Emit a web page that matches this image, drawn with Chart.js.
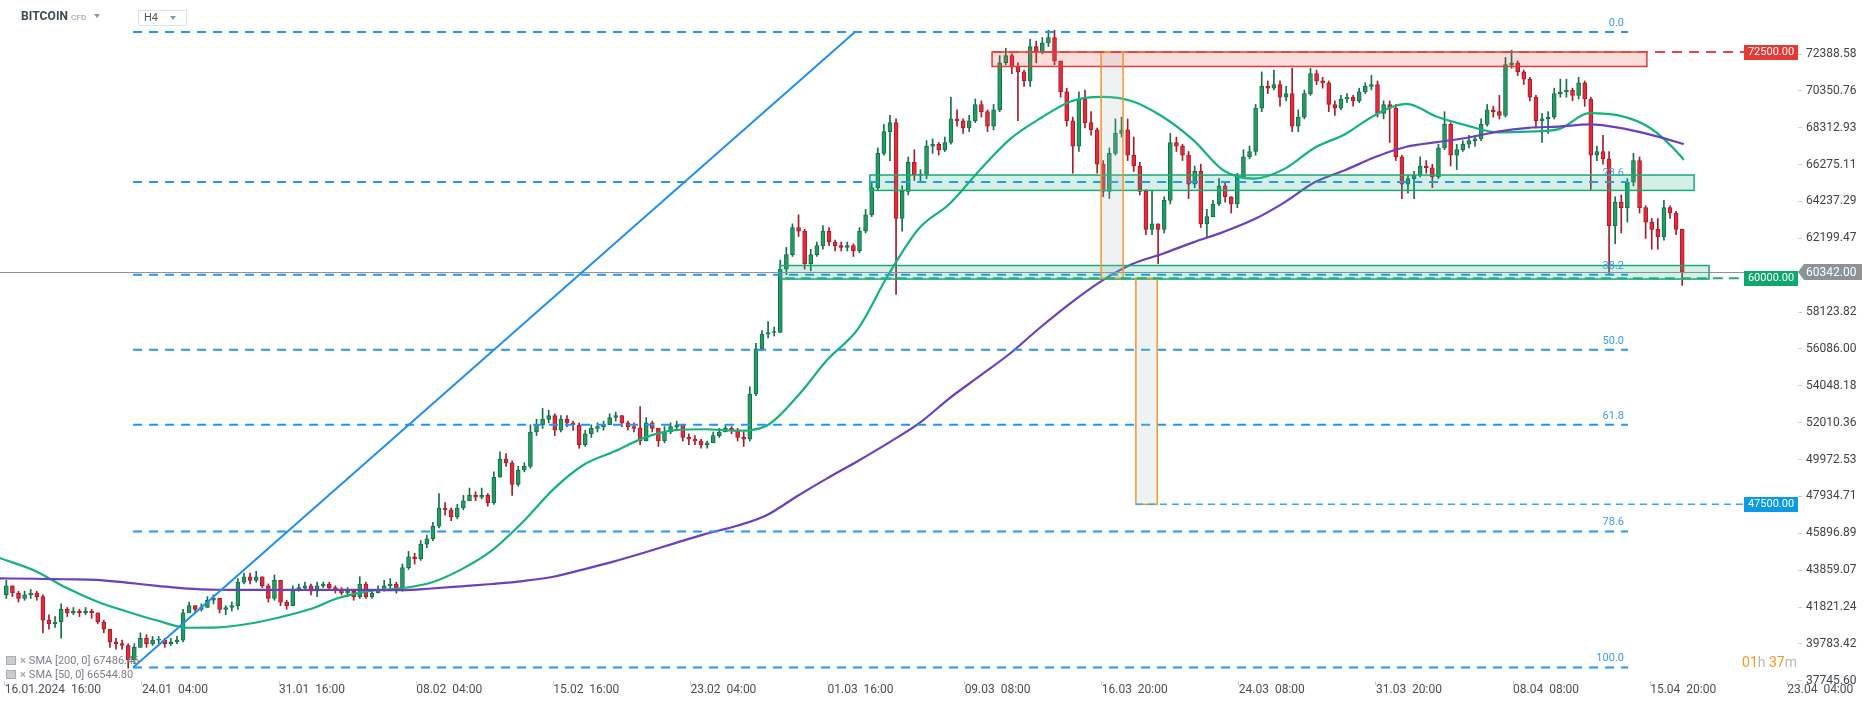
<!DOCTYPE html>
<html lang="en">
<head>
<meta charset="UTF-8">
<title>BITCOIN H4</title>
<script src="https://cdn.jsdelivr.net/npm/chart.js@4.4.1/dist/chart.umd.min.js"></script>
<style>
    html, body { margin: 0; padding: 0; background: #fff; }
    body { width: 1866px; height: 707px; overflow: hidden; position: relative; font-family: Roboto, "Open Sans", sans-serif; }
    #chart { position: absolute; left: 0; top: 0; }
    .sym { position: absolute; left: 21px; top: 9px; font-size: 12px; font-weight: 700; color: #3d4a57; letter-spacing: 0.1px; }
    .sym small { font-size: 8px; font-weight: 400; color: #8c98a4; margin-left: 3px; }
    .caret { position: absolute; width: 0; height: 0; border-left: 3px solid transparent; border-right: 3px solid transparent; border-top: 4px solid #8c98a4; }
    .tf { position: absolute; left: 138px; top: 10px; width: 42px; height: 14px; border: 1px solid #dfe3e7; font-size: 11px; color: #555; line-height: 14px; padding-left: 5px; box-sizing: content-box; }
    .legend { position: absolute; left: 6px; font-size: 11px; color: #7b8087; line-height: 12px; white-space: nowrap; }
    .legend i { display: inline-block; width: 8px; height: 7px; border: 1px solid #a9adb1; background: #c9ccd0; margin-right: 4px; vertical-align: -1px; }
    .legend b { color: #a2a6ab; font-weight: 700; margin-right: 3px; }
    .timer { position: absolute; right: 69px; top: 654px; font-size: 14px; color: #f5961f; }
    .timer span { color: #b9b9b9; }
</style>
</head>
<body>
<canvas id="chart" width="1866" height="707"></canvas>

<div class="sym">BITCOIN<small>CFD</small></div>
<div class="caret" style="left:94px;top:14px;"></div>
<div class="tf">H4</div>
<div class="caret" style="left:170px;top:16px;"></div>
<div class="legend" style="top:655px;"><i></i><b>×</b>SMA [200, 0] 67486.46</div>
<div class="legend" style="top:669px;"><i></i><b>×</b>SMA [50, 0] 66544.80</div>
<div class="timer">01<span>h</span> 37<span>m</span></div>

<script>
    // 8h candles, prices in thousands of USD (open = previous close)
    const firstOpen = 42.5;
    const closes = [
        43.0, 42.6, 42.3, 42.5, 42.6, 42.4, 41.1, 40.9, 41.0, 41.7,
        41.5, 41.6, 41.5, 41.6, 41.5, 41.0, 40.6, 39.9, 39.8, 39.7,
        38.9, 39.6, 40.1, 39.8, 40.0, 40.0, 39.8, 39.9, 40.0, 41.5,
        41.9, 41.7, 41.8, 42.2, 42.3, 41.7, 41.8, 41.9, 43.2, 43.5,
        43.3, 43.5, 43.0, 42.3, 43.3, 42.1, 41.9, 42.8, 42.9, 43.0,
        42.7, 43.0, 43.1, 42.9, 42.8, 42.6, 42.7, 42.4, 43.1, 42.4,
        42.6, 42.8, 43.0, 43.1, 42.9, 44.0, 44.6, 44.5, 45.3, 45.6,
        46.3, 47.3, 47.2, 46.8, 47.3, 47.7, 48.0, 47.9, 48.0, 47.6,
        49.0, 50.0, 49.8, 48.6, 49.4, 49.6, 51.5, 51.9, 52.2, 52.4,
        51.6, 52.2, 52.0, 51.9, 50.8, 51.4, 51.7, 51.8, 51.9, 52.3,
        52.4, 52.0, 51.8, 51.7, 51.0, 52.0, 51.7, 51.0, 51.5, 51.8,
        51.9, 51.2, 51.1, 51.0, 50.8, 50.9, 51.3, 51.5, 51.7, 51.6,
        51.2, 51.1, 53.6, 56.1, 56.9, 57.0, 57.0, 60.5, 61.3, 62.8,
        62.6, 60.8, 61.3, 61.8, 62.6, 62.0, 61.8, 61.7, 61.8, 61.5,
        62.6, 63.5, 65.0, 66.9, 68.1, 68.6, 63.3, 64.8, 66.4, 65.7,
        65.7, 67.3, 67.4, 67.1, 67.5, 68.8, 68.7, 68.3, 68.7, 69.6,
        69.2, 68.4, 69.3, 71.9, 72.3, 71.7, 71.4, 70.9, 72.8, 72.5,
        73.0, 73.3, 72.0, 70.3, 68.7, 67.3, 69.9, 68.6, 68.2, 66.3,
        64.8, 66.9, 68.0, 68.2, 66.8, 66.2, 64.8, 62.7, 63.0, 62.7,
        64.3, 67.5, 67.3, 66.8, 65.2, 65.9, 63.0, 63.4, 64.1, 65.1,
        64.5, 64.1, 65.6, 66.7, 67.0, 69.4, 70.6, 70.5, 70.7, 70.0,
        70.2, 68.4, 68.9, 70.2, 71.3, 70.9, 70.8, 69.6, 69.4, 69.9,
        70.0, 69.8, 70.3, 70.6, 70.7, 69.1, 69.6, 69.4, 66.7, 65.2,
        65.5, 65.7, 66.2, 66.1, 65.6, 67.2, 68.5, 66.8, 67.1, 67.4,
        67.6, 67.7, 68.5, 69.3, 69.2, 69.0, 71.8, 71.9, 71.4, 71.0,
        70.0, 68.7, 68.8, 68.9, 70.2, 70.3, 70.4, 70.1, 70.8, 69.9,
        66.8, 67.0, 66.6, 62.9, 64.2, 63.9, 65.3, 66.5, 63.9, 63.1,
        62.7, 62.3, 63.9, 63.6, 62.7, 60.342
    ];
    const highs = [
        43.3, 43.0, 42.7, 42.7, 42.8, 42.7, 42.5, 41.4, 41.3, 42.0,
        41.8, 41.8, 41.7, 41.8, 41.7, 41.5, 41.1, 40.6, 40.1, 40.0,
        39.8, 39.8, 40.4, 40.3, 40.2, 40.2, 40.1, 40.1, 40.2, 41.7,
        42.1, 41.9, 42.0, 42.4, 42.5, 42.3, 41.9, 42.1, 43.4, 43.7,
        43.7, 43.8, 43.5, 43.1, 43.6, 43.3, 42.2, 43.0, 43.1, 43.2,
        43.1, 43.2, 43.2, 43.2, 43.0, 42.9, 42.9, 42.8, 43.5, 43.2,
        42.8, 43.0, 43.3, 43.4, 43.2, 44.2, 44.9, 44.8, 45.5, 45.8,
        46.5, 48.1, 47.6, 47.3, 47.5, 48.0, 48.4, 48.2, 48.4, 48.1,
        49.3, 50.4, 50.3, 49.9, 49.6, 49.8, 51.9, 52.2, 52.8, 52.7,
        52.5, 52.4, 52.4, 52.1, 52.0, 51.6, 51.9, 52.0, 52.1, 52.5,
        52.6, 52.4, 52.1, 52.0, 52.9, 52.3, 52.1, 51.7, 51.8, 52.0,
        52.1, 51.9, 51.4, 51.3, 51.1, 51.0, 51.5, 51.7, 51.9, 51.8,
        51.7, 51.5, 54.0, 56.4, 57.1, 57.6, 57.3, 61.0, 61.7, 63.0,
        63.5, 62.7, 61.6, 62.0, 62.9, 62.8, 62.1, 62.0, 62.0, 61.9,
        62.8, 63.8, 65.3, 67.2, 68.5, 69.0, 68.8, 65.1, 66.7, 67.1,
        66.0, 67.6, 67.7, 67.5, 67.8, 70.0, 69.3, 68.8, 69.0, 69.9,
        69.8, 69.3, 69.6, 72.3, 72.7, 72.4, 71.9, 71.5, 73.2, 73.1,
        73.3, 73.7, 73.7, 72.0, 70.5, 68.9, 70.3, 70.4, 69.2, 68.3,
        66.5, 67.2, 68.8, 68.9, 68.8, 67.8, 66.4, 64.9, 64.8, 63.0,
        64.5, 68.0, 67.8, 67.4, 67.0, 66.2, 66.3, 63.8, 64.3, 65.5,
        65.3, 64.5, 65.8, 67.1, 67.3, 69.6, 71.4, 70.9, 71.5, 70.9,
        70.6, 71.6, 69.3, 70.4, 71.6, 71.5, 71.1, 70.9, 69.8, 70.1,
        70.2, 70.1, 70.5, 70.8, 71.2, 70.9, 69.8, 69.8, 69.6, 66.8,
        65.7, 65.9, 66.7, 66.5, 66.3, 67.4, 69.2, 68.6, 67.4, 67.6,
        67.9, 67.9, 68.8, 69.6, 69.5, 70.1, 72.2, 72.6, 72.0, 71.5,
        71.1, 70.1, 69.1, 69.2, 70.5, 71.0, 71.0, 70.5, 71.1, 70.9,
        70.0, 67.3, 67.9, 67.0, 64.5, 64.6, 65.5, 66.9, 66.7, 64.0,
        63.3, 63.3, 64.3, 64.0, 63.7, 62.7
    ];
    const lows = [
        42.3, 42.4, 42.1, 42.2, 42.3, 42.2, 40.4, 40.6, 40.7, 40.1,
        41.3, 41.4, 41.3, 41.4, 41.2, 40.9, 40.4, 39.6, 39.5, 39.5,
        38.45, 38.7, 39.6, 39.6, 39.7, 39.8, 39.6, 39.7, 39.8, 39.9,
        41.5, 41.5, 41.6, 41.8, 42.0, 41.5, 41.4, 41.6, 41.7, 43.1,
        43.1, 43.2, 42.9, 42.1, 42.2, 41.9, 41.7, 41.9, 42.7, 42.8,
        42.5, 42.4, 42.9, 42.8, 42.6, 42.5, 42.4, 42.2, 42.3, 42.3,
        42.3, 42.6, 42.7, 42.8, 42.6, 42.7, 43.9, 44.2, 44.4, 45.1,
        45.5, 46.2, 46.9, 46.6, 46.7, 47.2, 47.7, 47.7, 47.8, 47.4,
        47.5, 49.0, 49.6, 48.0, 48.5, 49.3, 49.5, 51.3, 51.7, 52.0,
        51.3, 51.5, 51.8, 51.6, 50.6, 50.7, 51.2, 51.5, 51.6, 51.9,
        52.1, 51.8, 51.6, 51.5, 50.8, 51.0, 51.5, 50.7, 50.9, 51.4,
        51.6, 51.0, 50.8, 50.8, 50.6, 50.6, 50.9, 51.2, 51.5, 51.4,
        51.0, 50.7, 51.0, 53.5, 56.0, 56.7, 56.8, 57.0, 60.2, 61.2,
        62.3, 60.5, 60.4, 61.2, 61.6, 61.8, 61.5, 61.5, 61.5, 61.2,
        61.4, 62.5, 63.4, 64.9, 66.8, 66.5, 59.1, 62.6, 64.6, 65.4,
        65.3, 65.5, 66.9, 66.8, 67.0, 67.4, 68.4, 68.0, 68.1, 68.6,
        68.9, 68.1, 68.2, 69.2, 71.8, 71.3, 68.7, 70.6, 70.6, 71.9,
        72.4, 72.8, 71.8, 70.0, 68.4, 65.8, 67.0, 68.3, 67.9, 65.8,
        64.5, 64.4, 66.8, 67.8, 66.5, 65.9, 64.6, 62.4, 62.4, 60.8,
        62.5, 64.1, 67.0, 66.5, 64.4, 65.0, 62.8, 62.3, 63.4, 64.0,
        64.2, 63.6, 63.9, 65.5, 66.6, 66.8, 69.2, 70.2, 70.4, 69.5,
        69.8, 68.1, 68.1, 68.8, 70.1, 70.7, 70.5, 69.2, 69.0, 69.3,
        69.7, 69.5, 69.7, 70.2, 70.4, 68.9, 68.8, 67.5, 66.5, 64.4,
        64.7, 64.4, 65.6, 65.8, 65.0, 65.5, 67.1, 66.2, 66.0, 67.0,
        67.2, 67.3, 67.6, 68.4, 68.9, 68.8, 68.9, 71.6, 71.2, 70.7,
        69.8, 68.3, 67.5, 68.0, 68.8, 70.0, 70.0, 69.8, 69.9, 69.5,
        64.9, 66.5, 66.3, 60.2, 61.9, 62.5, 63.1, 65.1, 63.6, 62.2,
        61.6, 61.6, 62.1, 63.3, 62.4, 59.6
    ];

    // moving averages, at these H4 bar numbers (thousands of USD)
    const smaBars = [-2, 10, 20, 30, 40, 50, 60, 70, 80, 90, 100, 110, 120, 130, 140, 150, 160, 170, 180, 190,
        200, 210, 220, 230, 240, 250, 260, 270, 280, 290, 300, 310, 320, 330, 340, 350, 360, 370, 380, 390,
        400, 410, 420, 430, 440, 450, 460, 470, 480, 490, 500, 510, 520, 530, 540, 550, 551];
    const sma50 = [44.55, 43.82, 42.90, 42.15, 41.58, 41.08, 40.68, 40.70, 40.90, 41.25, 41.70, 42.35, 42.72, 42.86, 43.18, 43.92, 44.97, 46.52, 48.33, 49.69,
        50.42, 51.19, 51.60, 51.65, 51.57, 51.85, 53.45, 55.50, 57.20, 60.20, 62.75, 64.10, 65.98, 67.70, 68.85, 69.78, 70.02, 69.78, 68.92, 67.64,
        65.95, 65.50, 66.04, 67.22, 67.97, 69.05, 69.63, 68.92, 68.43, 68.06, 68.10, 68.24, 69.12, 68.98, 68.30, 66.75, 66.53];
    const sma200 = [43.41, 43.39, 43.36, 43.33, 43.17, 43.00, 42.84, 42.78, 42.77, 42.77, 42.77, 42.77, 42.77, 42.76, 42.85, 42.97, 43.10, 43.26, 43.50, 43.91,
        44.35, 44.84, 45.36, 45.87, 46.30, 46.90, 47.95, 48.95, 49.90, 50.90, 51.97, 53.36, 54.60, 55.85, 57.30, 58.65, 59.85, 60.78, 61.35, 61.98,
        62.56, 63.25, 64.19, 65.31, 65.98, 66.71, 67.26, 67.52, 67.76, 68.10, 68.31, 68.38, 68.50, 68.31, 67.93, 67.46, 67.41];

    // axis ticks
    const xTickBars = [0, 45, 90, 135, 180, 225, 270, 315, 360, 405, 450, 495, 540, 585];
    const xTickLabels = ['16.01.2024  16:00', '24.01  04:00', '31.01  16:00', '08.02  04:00', '15.02  16:00', '23.02  04:00',
        '01.03  16:00', '09.03  08:00', '16.03  20:00', '24.03  08:00', '31.03  20:00', '08.04  08:00', '15.04  20:00', '23.04  04:00'];
    const yTicks = [37745.60, 39783.42, 41821.24, 43859.07, 45896.89, 47934.71, 49972.53, 52010.36, 54048.18,
        56086.00, 58123.82, 62199.47, 64237.29, 66275.11, 68312.93, 70350.76, 72388.58];

    // drawings on the chart
    const fib = { low: 38480, high: 73600, from: 42.1, to: 532.7, top: 279.0 };
    const fibLevels = [0, 23.6, 38.2, 50, 61.8, 78.6, 100];
    const fibTexts = ['0.0', '23.6', '38.2', '50.0', '61.8', '78.6', '100.0'];
    const zones = [
        { from: 324.0, to: 538.9, top: 72500, bottom: 71700, fill: 'rgba(236,84,74,0.2)', stroke: '#e53935' },
        { from: 283.9, to: 554.4, top: 65700, bottom: 64850, fill: 'rgba(38,182,128,0.2)', stroke: '#1ba877' },
        { from: 254.4, to: 559.3, top: 60700, bottom: 59950, fill: 'rgba(38,182,128,0.2)', stroke: '#1ba877' }
    ];
    const boxes = [
        { from: 359.8, to: 367.0, top: 72500, bottom: 60000 },
        { from: 371.2, to: 378.2, top: 60000, bottom: 47500 }
    ];
    const levels = [
        { price: 72500, from: 324.0, color: '#e8453f', dash: [10, 7], width: 2, tag: '72500.00', bg: '#e53935' },
        { price: 60000, from: 256.0, color: '#22b07a', dash: [10, 6], width: 2, tag: '60000.00', bg: '#0fa86b' },
        { price: 47500, from: 371.2, color: '#2ea8f2', dash: [7, 5], width: 1.5, tag: '47500.00', bg: '#0a9ae6' }
    ];
    const lastPrice = 60342;

    const GREEN = '#229c64', GREEN_DARK = '#14704a', RED = '#e52a3b', RED_DARK = '#a51d2a';

    const opens = closes.map((c, k) => k === 0 ? firstOpen : closes[k - 1]);
    const candleX = closes.map((c, k) => 2 * k + 0.5);
    const up = closes.map((c, k) => c >= opens[k]);

    const bodies = closes.map((c, k) => ({ x: candleX[k], y: [opens[k] * 1000, c * 1000] }));
    const wicks = closes.map((c, k) => ({
        x: candleX[k],
        y: [Math.min(lows[k], opens[k], c) * 1000, Math.max(highs[k], opens[k], c) * 1000]
    }));
    const line50 = smaBars.map((b, i) => ({ x: b, y: sma50[i] * 1000 }));
    const line200 = smaBars.map((b, i) => ({ x: b, y: sma200[i] * 1000 }));

    const drawings = {
        id: 'drawings',
        afterDatasetsDraw(chart) {
            const { ctx, chartArea: a, scales: { x, y } } = chart;
            const X = v => x.getPixelForValue(v);
            const Y = v => y.getPixelForValue(v);
            const hline = (py, x0, x1) => { ctx.beginPath(); ctx.moveTo(x0, py); ctx.lineTo(x1, py); ctx.stroke(); };

            ctx.save();
            ctx.beginPath();
            ctx.rect(a.left, a.top, a.right - a.left, a.bottom - a.top);
            ctx.clip();

            // last price line
            ctx.strokeStyle = '#8d9399';
            ctx.lineWidth = 1;
            hline(Math.round(Y(lastPrice)) + 0.5, a.left, a.right);

            // fibonacci levels
            const fibPrice = l => fib.high - l / 100 * (fib.high - fib.low);
            ctx.strokeStyle = '#2196f3';
            ctx.lineWidth = 2;
            ctx.setLineDash([9, 7]);
            fibLevels.forEach(l => hline(Y(fibPrice(l)), X(fib.from), X(fib.to)));
            ctx.setLineDash([]);

            ctx.beginPath();
            ctx.strokeStyle = '#1e8ff0';
            ctx.moveTo(X(fib.from), Y(fib.low));
            ctx.lineTo(X(fib.top), Y(fib.high));
            ctx.stroke();

            // zones
            zones.forEach(z => {
                const x0 = X(z.from), x1 = X(z.to), y0 = Y(z.top), y1 = Y(z.bottom);
                ctx.fillStyle = z.fill;
                ctx.fillRect(x0, y0, x1 - x0, y1 - y0);
                ctx.strokeStyle = z.stroke;
                ctx.lineWidth = 1.5;
                ctx.strokeRect(x0, y0, x1 - x0, y1 - y0);
            });

            // price projection boxes
            boxes.forEach(b => {
                const x0 = X(b.from), x1 = X(b.to), y0 = Y(b.top), y1 = Y(b.bottom);
                ctx.fillStyle = 'rgba(176,192,192,0.2)';
                ctx.fillRect(x0, y0, x1 - x0, y1 - y0);
                ctx.strokeStyle = '#f5952a';
                ctx.lineWidth = 1.5;
                ctx.strokeRect(x0, y0, x1 - x0, y1 - y0);
            });

            // horizontal levels
            levels.forEach(l => {
                ctx.strokeStyle = l.color;
                ctx.lineWidth = l.width;
                ctx.setLineDash(l.dash);
                hline(Y(l.price), X(l.from), a.right);
            });
            ctx.setLineDash([]);

            // fib texts
            ctx.font = '11px Roboto';
            ctx.fillStyle = '#3a9cf2';
            ctx.textAlign = 'right';
            ctx.textBaseline = 'middle';
            fibLevels.forEach((l, i) => ctx.fillText(fibTexts[i], X(fib.to) - 4, Y(fibPrice(l)) - 9));
            ctx.restore();
        },
        afterDraw(chart) {
            const { ctx, chartArea: a, scales: { y } } = chart;
            ctx.save();
            ctx.font = '11px Roboto';
            ctx.textAlign = 'center';
            ctx.textBaseline = 'middle';
            levels.forEach(l => {
                const py = Math.round(y.getPixelForValue(l.price));
                ctx.fillStyle = l.bg;
                ctx.fillRect(a.right - 54, py - 7, 54, 15);
                ctx.fillStyle = '#fff';
                ctx.fillText(l.tag, a.right - 27, py + 0.5);
            });
            // last price tag on the axis
            const py = Math.round(y.getPixelForValue(lastPrice));
            ctx.fillStyle = '#8b9298';
            ctx.beginPath();
            ctx.moveTo(a.right, py);
            ctx.lineTo(a.right + 6, py - 8);
            ctx.lineTo(a.right + 64, py - 8);
            ctx.lineTo(a.right + 64, py + 8);
            ctx.lineTo(a.right + 6, py + 8);
            ctx.closePath();
            ctx.fill();
            ctx.font = '12px Roboto';
            ctx.fillStyle = '#fff';
            ctx.textAlign = 'left';
            ctx.fillText(lastPrice.toFixed(2), a.right + 8, py + 0.5);
            ctx.restore();
        }
    };

    Chart.defaults.font.family = 'Roboto';

    const ctx = document.getElementById('chart').getContext('2d');
    const chart = new Chart(ctx, {
        type: 'bar',
        data: {
            datasets: [
                { type: 'line', label: 'SMA 200', data: line200, borderColor: '#6b3fbf', borderWidth: 2.2,
                  pointRadius: 0, cubicInterpolationMode: 'monotone', order: 0 },
                { type: 'line', label: 'SMA 50', data: line50, borderColor: '#14b37a', borderWidth: 2.2,
                  pointRadius: 0, cubicInterpolationMode: 'monotone', order: 0 },
                { type: 'bar', label: 'wicks', data: wicks, grouped: false, barThickness: 1, order: 2,
                  backgroundColor: up.map(u => u ? GREEN_DARK : RED_DARK) },
                { type: 'bar', label: 'bodies', data: bodies, grouped: false, barThickness: 4, minBarLength: 1, order: 1,
                  backgroundColor: up.map(u => u ? GREEN : RED),
                  borderColor: up.map(u => u ? GREEN_DARK : RED_DARK), borderWidth: 1, borderSkipped: false }
            ]
        },
        options: {
            responsive: false,
            animation: false,
            events: [],
            layout: { padding: 0 },
            plugins: { legend: { display: false }, tooltip: { enabled: false } },
            scales: {
                x: {
                    type: 'linear',
                    min: -1.575,
                    max: 588.5,
                    offset: false,
                    grid: { drawOnChartArea: false, drawTicks: true, tickLength: 4, color: '#c9ced3', offset: false },
                    border: { display: false },
                    ticks: {
                        autoSkip: false, maxRotation: 0, align: 'start', padding: -2,
                        color: '#4a4f55', font: { size: 12 },
                        callback: (v, i) => xTickLabels[i]
                    },
                    afterBuildTicks: s => { s.ticks = xTickBars.map(v => ({ value: v })); },
                    afterFit: s => { s.height = 26; s.paddingLeft = 0; s.paddingRight = 0; }
                },
                y: {
                    type: 'linear',
                    position: 'right',
                    min: 37738,
                    max: 75373,
                    grid: { drawOnChartArea: false, drawTicks: true, tickLength: 4, color: '#c9ced3' },
                    border: { display: false },
                    ticks: {
                        autoSkip: false, padding: 4, color: '#3f4449', font: { size: 12 },
                        callback: v => v.toFixed(2)
                    },
                    afterBuildTicks: s => { s.ticks = yTicks.map(v => ({ value: v })); },
                    afterFit: s => { s.width = 68; s.paddingTop = 0; s.paddingBottom = 0; }
                }
            }
        },
        plugins: [drawings]
    });
</script>
</body>
</html>
